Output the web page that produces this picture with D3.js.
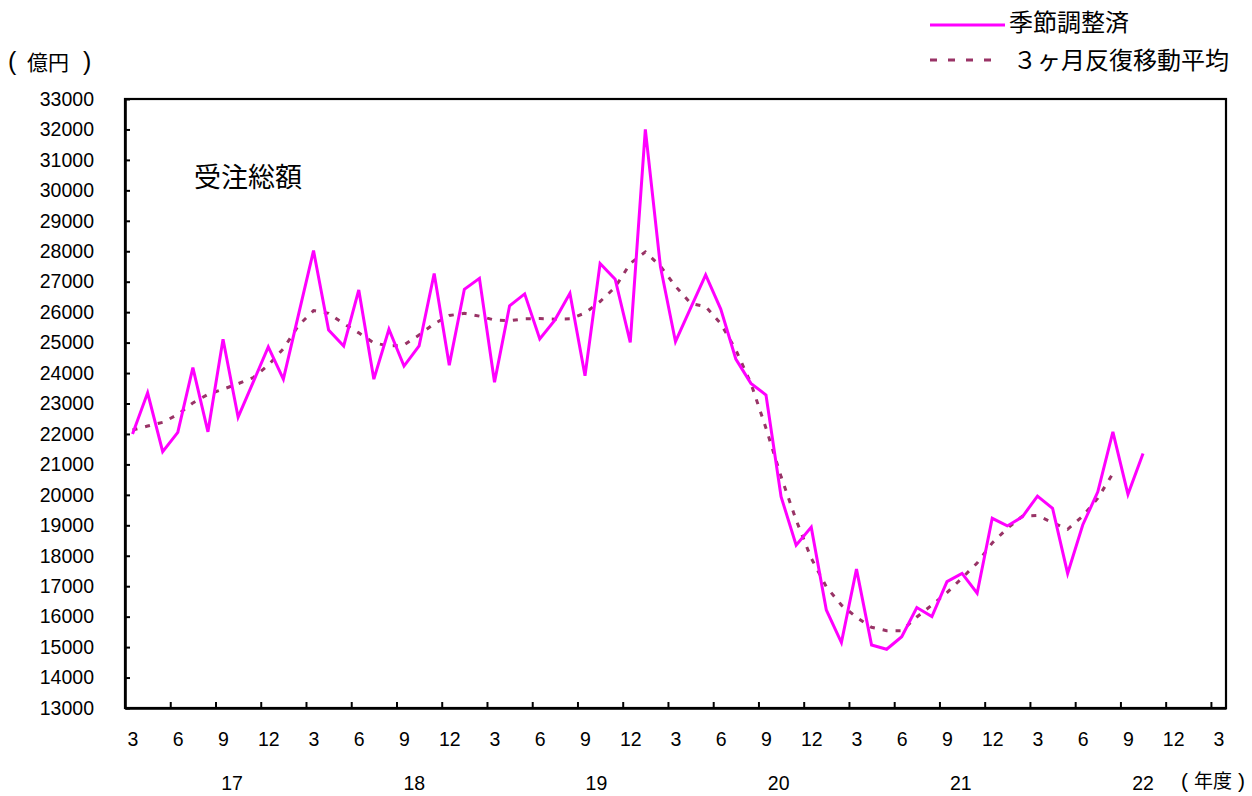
<!DOCTYPE html>
<html>
<head>
<meta charset="utf-8">
<script src="https://cdn.jsdelivr.net/npm/d3@7"></script>
<style>
  html, body { margin: 0; padding: 0; background: #fff; }
  svg { display: block; font-family: "Liberation Sans", Arial, "Noto Sans CJK JP", sans-serif; }
</style>
</head>
<body>
<svg id="chart" width="1252" height="796"></svg>
<script>
// ---- data (monthly, Mar 2017 .. Mar 2023 axis; 億円) ----
const nCategories = 73;               // monthly slots on the axis (2017/3 .. 2023/3)
const seasonallyAdjusted = [
  22000, 23350, 21420, 22050, 24180, 22070, 25110, 22550, 23700, 24860,
  23800, 25910, 28020, 25410, 24890, 26730, 23800, 25440, 24230, 24890,
  27270, 24260, 26750, 27110, 23700, 26210, 26600, 25120, 25740, 26620,
  23910, 27600, 27080, 25010, 32000, 27500, 25030, 26130, 27220, 26100,
  24460, 23660, 23280, 19940, 18350, 18940, 16220, 15150, 17560, 15070,
  14930, 15340, 16300, 16000, 17150, 17420, 16770, 19230, 18980, 19280,
  19960, 19560, 17420, 19010, 20100, 22070, 20020, 21360
];
const movingAverage3 = [
  22130, 22260, 22380, 22640, 23020, 23300, 23470, 23650, 23850, 24260,
  24800, 25560, 26050, 25960, 25620, 25320, 24990, 24890, 24920, 25250,
  25620, 25890, 25960, 25870, 25740, 25720, 25780, 25790, 25770, 25780,
  25970, 26350, 26820, 27600, 27980, 27510, 26850, 26290, 26180, 25620,
  24760, 23660, 22190, 20600, 19170, 17920, 16980, 16380, 15980, 15650,
  15540, 15540, 15990, 16380, 16790, 17270, 17760, 18420, 18900, 19300,
  19320, 19090, 18870, 19300, 19890, 20700
];
const monthTickLabels = ["3","6","9","12","3","6","9","12","3","6","9","12",
  "3","6","9","12","3","6","9","12","3","6","9","12","3"];
const yearLabels = ["17","18","19","20","21","22"];
const yTicks = d3.range(13000, 33001, 1000);
const seriesNames = ["季節調整済", "３ヶ月反復移動平均"];
const titleText = "受注総額";
const yUnit = "億円";
const xUnit = "年度";

// ---- layout ----
const svg = d3.select("#chart");
const L = 125, R = 1226, T = 99, B = 708;
const colSA = "#FF00FF", colMA = "#993366";

const xb = d3.scaleLinear().domain([0, nCategories]).range([L, R]);   // slot boundaries
const xc = i => xb(i + 0.5);                                          // slot centres
const y = d3.scaleLinear().domain([13000, 33000]).range([B, T]);

// frame
svg.append("rect").attr("x", L).attr("y", T).attr("width", R - L).attr("height", B - T)
  .attr("fill", "none").attr("stroke", "#000").attr("stroke-width", 2.2);

// y axis
const yAxis = svg.append("g").attr("transform", `translate(${L},0)`)
  .call(d3.axisLeft(y).tickValues(yTicks).tickFormat(d3.format("d"))
        .tickSizeInner(-5).tickSizeOuter(0).tickPadding(31));
yAxis.select(".domain").attr("stroke-width", 2.6);
yAxis.selectAll(".tick line").attr("stroke-width", 2);
yAxis.selectAll("text").attr("font-size", 19.5).attr("fill", "#000")
  .attr("font-family", "Liberation Sans, Arial, sans-serif");

// x axis ticks (slot boundaries every 3 months)
const tickPos = d3.range(3, nCategories, 3);
const xTickAxis = svg.append("g").attr("transform", `translate(0,${B})`)
  .call(d3.axisBottom(xb).tickValues(tickPos).tickFormat("").tickSizeInner(-6).tickSizeOuter(0));
xTickAxis.select(".domain").attr("stroke-width", 2.6);
xTickAxis.selectAll(".tick line").attr("stroke-width", 2);

// x axis month labels (at slot centres)
const labelIdx = monthTickLabels.map((d, k) => k * 3 + 0.5);
const xLabAxis = svg.append("g").attr("transform", `translate(0,${B})`)
  .call(d3.axisBottom(xb).tickValues(labelIdx)
        .tickFormat((d, k) => monthTickLabels[k]).tickSize(0).tickPadding(24));
xLabAxis.select(".domain").remove();
xLabAxis.selectAll("text").attr("font-size", 19.5).attr("fill", "#000")
  .attr("font-family", "Liberation Sans, Arial, sans-serif");

// fiscal-year labels
svg.append("g").selectAll("text").data(yearLabels).join("text")
  .attr("x", (d, k) => xb(7.1 + 12.08 * k))
  .attr("y", 790)
  .attr("text-anchor", "middle")
  .attr("font-size", 19.5)
  .text(d => d);

// unit labels with wide parentheses
const xu = svg.append("text").attr("y", 788).attr("font-size", 19);
xu.append("tspan").attr("x", 1181).attr("font-size", 21).text("(");
xu.append("tspan").attr("x", 1194).text(xUnit);
xu.append("tspan").attr("x", 1238).attr("font-size", 21).text(")");

const yu = svg.append("text").attr("y", 70).attr("font-size", 21);
yu.append("tspan").attr("x", 8).attr("font-size", 25).text("(");
yu.append("tspan").attr("x", 27).text(yUnit);
yu.append("tspan").attr("x", 83).attr("font-size", 25).text(")");

// title
svg.append("text").attr("x", 194).attr("y", 187).attr("font-size", 27).text(titleText);

// lines
const lineGen = d3.line().x((d, i) => xc(i)).y(d => y(d));
svg.append("path").datum(movingAverage3).attr("d", lineGen)
  .attr("fill", "none").attr("stroke", colMA).attr("stroke-width", 3)
  .attr("stroke-dasharray", "5,8");
svg.append("path").datum(seasonallyAdjusted).attr("d", lineGen)
  .attr("fill", "none").attr("stroke", colSA).attr("stroke-width", 3)
  .attr("stroke-linejoin", "miter");

// legend
const lg = svg.append("g");
lg.append("line").attr("x1", 930).attr("x2", 1005).attr("y1", 25).attr("y2", 25)
  .attr("stroke", colSA).attr("stroke-width", 3);
lg.append("text").attr("x", 1009).attr("y", 31).attr("font-size", 24).text(seriesNames[0]);
lg.append("line").attr("x1", 930).attr("x2", 998).attr("y1", 60).attr("y2", 60)
  .attr("stroke", colMA).attr("stroke-width", 3).attr("stroke-dasharray", "7,11");
lg.append("text").attr("x", 1013).attr("y", 69).attr("font-size", 24).text(seriesNames[1]);
</script>
</body>
</html>
